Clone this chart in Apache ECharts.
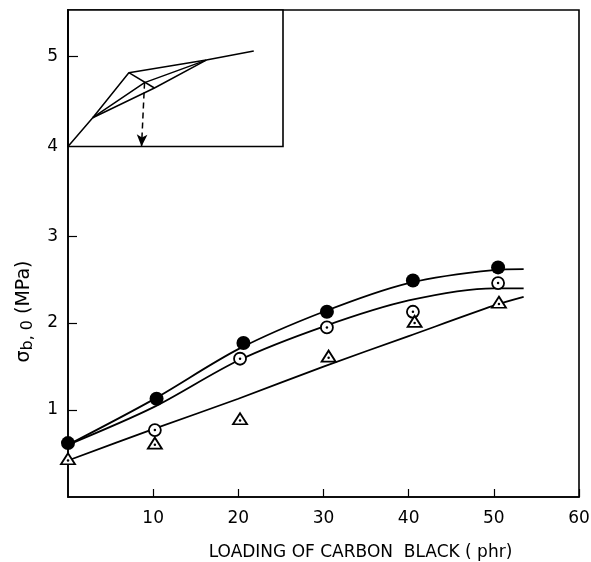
<!DOCTYPE html>
<html>
<head>
<meta charset="utf-8">
<script src="https://cdn.jsdelivr.net/npm/echarts@6/dist/echarts.min.js"></script>
<style>
  html, body { margin: 0; padding: 0; background: #fff; }
  #chart { width: 591px; height: 562px; }
</style>
</head>
<body>
<div id="chart"></div>
<script>
// measured points (phr, MPa)
const filledX = [0, 10.4, 20.6, 30.4, 40.5, 50.5]
const filledY = [0.62, 1.13, 1.77, 2.13, 2.49, 2.64]
const openX = [10.2, 20.2, 30.4, 40.5, 50.5]
const openY = [0.77, 1.59, 1.95, 2.13, 2.46]
const triX = [0, 10.2, 20.2, 30.6, 40.7, 50.6]
const triY = [0.44, 0.62, 0.90, 1.62, 2.02, 2.24]

// fitted curves
const curveX = [0, 10, 20, 30, 40, 50, 53.5]
const curveTop = [0.6, 1.12, 1.70, 2.13, 2.46, 2.61, 2.62]
const curveMid = [0.6, 1.03, 1.57, 1.96, 2.26, 2.40, 2.40]
const curveLow = [0.42, 0.78, 1.13, 1.50, 1.85, 2.20, 2.30]

// inset sketch (arbitrary x units, y in MPa)
const insetMain = [[0, 4.0], [1.15, 4.32], [2.83, 4.82], [6.43, 4.96], [8.64, 5.06]]
const insetMid = [[1.15, 4.32], [3.56, 4.71], [6.43, 4.96]]
const insetLow = [[1.15, 4.32], [4.02, 4.65], [6.43, 4.96]]
const insetCross = [[2.83, 4.82], [4.02, 4.65]]
const arrowFrom = [3.56, 4.71]
const arrowTo = [3.42, 4.0]

const xTicks = [10, 20, 30, 40, 50, 60]
const yTicks = [1, 2, 3]
const insetTicks = [4, 5]

const zip = (xs, ys) => xs.map((x, i) => [x, ys[i]])

const font = 'DejaVu Sans'
const lineStyle = { color: '#000', width: 1.8 }

const chart = echarts.init(document.getElementById('chart'))

chart.setOption({
  animation: false,
  grid: [
    { left: 68, right: 12, top: 10, bottom: 65, outerBoundsMode: 'none', show: true, borderColor: '#000', borderWidth: 1.6 },
    { left: 68, top: 10, width: 215, height: 136.5, outerBoundsMode: 'none', show: true, borderColor: '#000', borderWidth: 1.6, backgroundColor: '#fff' }
  ],
  xAxis: [
    {
      type: 'value', gridIndex: 0, min: 0, max: 60,
      name: 'LOADING OF CARBON  BLACK ( phr)',
      nameLocation: 'middle', nameGap: 47,
      nameTextStyle: { fontFamily: font, fontSize: 17, color: '#000', padding: [0, 0, 0, 74] },
      axisLine: { lineStyle: { color: '#000', width: 1.6 } },
      axisTick: { inside: true, length: 8, customValues: xTicks, lineStyle: { color: '#000', width: 1.2 } },
      axisLabel: { customValues: xTicks, margin: 13, fontFamily: font, fontSize: 17, color: '#000' },
      splitLine: { show: false }
    },
    { type: 'value', gridIndex: 1, min: 0, max: 10, show: false }
  ],
  yAxis: [
    {
      type: 'value', gridIndex: 0, min: 0, max: 5.6,
      name: '{m|σ}{s|b, 0}{m| (MPa)}',
      nameLocation: 'middle', nameRotate: 90, nameGap: 30,
      nameTextStyle: {
        padding: [0, 116, 0, 0],
        rich: {
          m: { fontFamily: font, fontSize: 19, color: '#000', lineHeight: 24 },
          s: { fontFamily: font, fontSize: 16, color: '#000', lineHeight: 14, verticalAlign: 'bottom' }
        }
      },
      axisLine: { lineStyle: { color: '#000', width: 1.6 } },
      axisTick: { inside: true, length: 9, customValues: yTicks, lineStyle: { color: '#000', width: 1.2 } },
      axisLabel: { customValues: yTicks, margin: 10, fontFamily: font, fontSize: 17, color: '#000' },
      splitLine: { show: false }
    },
    {
      type: 'value', gridIndex: 1, min: 4, max: 4 + 136.5 / 90,
      axisLine: { show: true, lineStyle: { color: '#000', width: 1.6 } },
      axisTick: { show: true, inside: true, length: 10, customValues: [5], lineStyle: { color: '#000', width: 1.2 } },
      axisLabel: { customValues: insetTicks, margin: 10, fontFamily: font, fontSize: 17, color: '#000' },
      splitLine: { show: false }
    }
  ],
  series: [
    { type: 'line', data: zip(curveX, curveTop), smooth: 0.3, showSymbol: false, lineStyle, z: 2 },
    { type: 'line', data: zip(curveX, curveMid), smooth: 0.3, showSymbol: false, lineStyle, z: 2 },
    { type: 'line', data: zip(curveX, curveLow), smooth: 0.3, showSymbol: false, lineStyle, z: 2 },
    {
      type: 'scatter', data: zip(filledX, filledY), symbol: 'circle', symbolSize: 14,
      itemStyle: { color: '#000', opacity: 1 }, z: 5
    },
    {
      type: 'scatter', data: zip(openX, openY), symbol: 'circle', symbolSize: 12,
      itemStyle: { color: '#fff', borderColor: '#000', borderWidth: 1.8, opacity: 1 }, z: 5
    },
    {
      type: 'scatter', data: zip(triX, triY), symbol: 'triangle', symbolSize: [14, 11],
      itemStyle: { color: '#fff', borderColor: '#000', borderWidth: 1.8, opacity: 1 }, z: 5
    },
    {
      type: 'scatter', data: zip(openX, openY).concat(zip(triX, triY).map(p => [p[0], p[1] - 0.02])),
      symbol: 'circle', symbolSize: 2.5, itemStyle: { color: '#000', opacity: 1 }, z: 6
    },
    // inset
    { type: 'line', xAxisIndex: 1, yAxisIndex: 1, data: insetMain, showSymbol: false, lineStyle: { color: '#000', width: 1.5 } },
    { type: 'line', xAxisIndex: 1, yAxisIndex: 1, data: insetMid, showSymbol: false, lineStyle: { color: '#000', width: 1.5 } },
    { type: 'line', xAxisIndex: 1, yAxisIndex: 1, data: insetLow, showSymbol: false, lineStyle: { color: '#000', width: 1.5 } },
    {
      type: 'line', xAxisIndex: 1, yAxisIndex: 1, data: insetCross, showSymbol: false,
      lineStyle: { color: '#000', width: 1.5 },
      markLine: {
        silent: true, symbol: ['none', 'arrow'], symbolSize: [8, 12],
        label: { show: false },
        lineStyle: { color: '#000', width: 1.5, type: [6, 4] },
        data: [[{ coord: arrowFrom }, { coord: arrowTo }]]
      }
    }
  ]
})
</script>
</body>
</html>
